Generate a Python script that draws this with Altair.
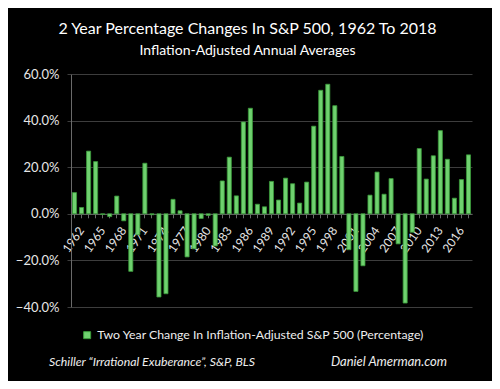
import altair as alt
import pandas as pd

years = list(range(1962, 2019))
changes = [
    9.1, 2.7, 26.9, 22.4, -0.3, -1.2, 7.6, -3.0, -24.7, -9.0,
    21.7, -0.4, -35.7, -34.3, 6.2, 1.3, -18.5, -15.0, -2.0, -0.7,
    -13.8, 14.1, 24.3, 7.7, 39.4, 45.3, 4.1, 3.0, 13.9, 5.9,
    15.3, 12.9, 4.6, 13.6, 37.6, 53.0, 55.6, 46.4, 24.6, -15.4,
    -33.3, -22.3, 8.0, 17.9, 8.4, 15.1, -12.9, -38.3, -7.9, 28.0,
    14.9, 24.9, 35.7, 23.4, 6.7, 14.7, 25.3,
]
series_name = "Two Year Change In Inflation-Adjusted S&P 500 (Percentage)"
y_ticks = [-40, -20, 0, 20, 40, 60]
title_text = "2 Year Percentage Changes In S&P 500, 1962 To 2018"
subtitle_text = "Inflation-Adjusted Annual Averages"
source_note = "Schiller \u201cIrrational Exuberance\u201d, S&P, BLS"
credit = "Daniel Amerman.com"

df = pd.DataFrame({"year": years, "change": changes, "series": series_name})

W, H = 401, 233
FONT = "Lato"
GREEN = "#6fd16f"
EDGE = "#3a9a3a"

bars = alt.Chart(df).mark_bar(stroke=EDGE, strokeWidth=0.8).encode(
    x=alt.X(
        "year:O",
        scale=alt.Scale(paddingInner=0.42, paddingOuter=0.21),
        axis=alt.Axis(
            title=None,
            offset=-H * 0.4,
            labelExpr="(datum.value - 1962) % 3 == 0 ? datum.value : ''",
            labelAngle=305,
            labelAlign="right",
            labelBaseline="middle",
            labelColor="#e6e6e6",
            labelFontSize=12,
            labelFont=FONT,
            labelPadding=10,
            labelOffset=7,
            labelOverlap=False,
            domainColor="#6a6a6a",
            tickColor="#6a6a6a",
            tickSize=4,
            grid=False,
        ),
    ),
    y=alt.Y(
        "change:Q",
        scale=alt.Scale(domain=[-40, 60], nice=False),
        axis=alt.Axis(
            values=y_ticks,
            title=None,
            labelExpr="format(datum.value, '.1f') + '%'",
            gridColor="#3d3d3d",
            domainColor="#6a6a6a",
            tickColor="#3d3d3d",
            tickSize=4,
            labelPadding=8,
            labelFontSize=13,
            labelFont=FONT,
            labelColor="#e6e6e6",
        ),
    ),
    color=alt.Color(
        "series:N",
        scale=alt.Scale(range=[GREEN]),
        legend=alt.Legend(
            title=None,
            orient="none",
            legendX=10,
            legendY=255,
            symbolType="square",
            symbolSize=49,
            symbolStrokeColor=EDGE,
            symbolStrokeWidth=1,
            labelFontSize=12.3,
            labelFont=FONT,
            labelColor="#eeeeee",
            labelLimit=0,
        ),
    ),
)

notes = pd.DataFrame({"t": [source_note]})
credits = pd.DataFrame({"t": [credit]})

note1 = alt.Chart(notes).mark_text(
    align="center", baseline="middle", font=FONT, fontSize=12.3, fontStyle="italic", color="#eeeeee"
).encode(x=alt.value(81), y=alt.value(288), text="t:N")

note2 = alt.Chart(credits).mark_text(
    align="center", baseline="middle", font=FONT, fontSize=13, fontStyle="italic", color="#eeeeee"
).encode(x=alt.value(318), y=alt.value(288), text="t:N")

chart = alt.layer(bars, note1, note2).properties(
    width=W,
    height=H,
    autosize="none",
    padding={"left": 63, "top": 66, "right": 20, "bottom": 74},
    title=alt.TitleParams(
        text=title_text,
        subtitle=subtitle_text,
        font=FONT,
        subtitleFont=FONT,
        fontSize=16,
        subtitleFontSize=14,
        fontWeight="normal",
        color="white",
        subtitleColor="white",
        anchor="middle",
        dx=-24,
        offset=10,
        subtitlePadding=7,
    ),
    usermeta={"embedOptions": {"defaultStyle": "body{background:#000;}"}},
).configure(background="black").configure_view(stroke=None)

chart.save("out.html", embed_options={"renderer": "svg", "actions": False})
